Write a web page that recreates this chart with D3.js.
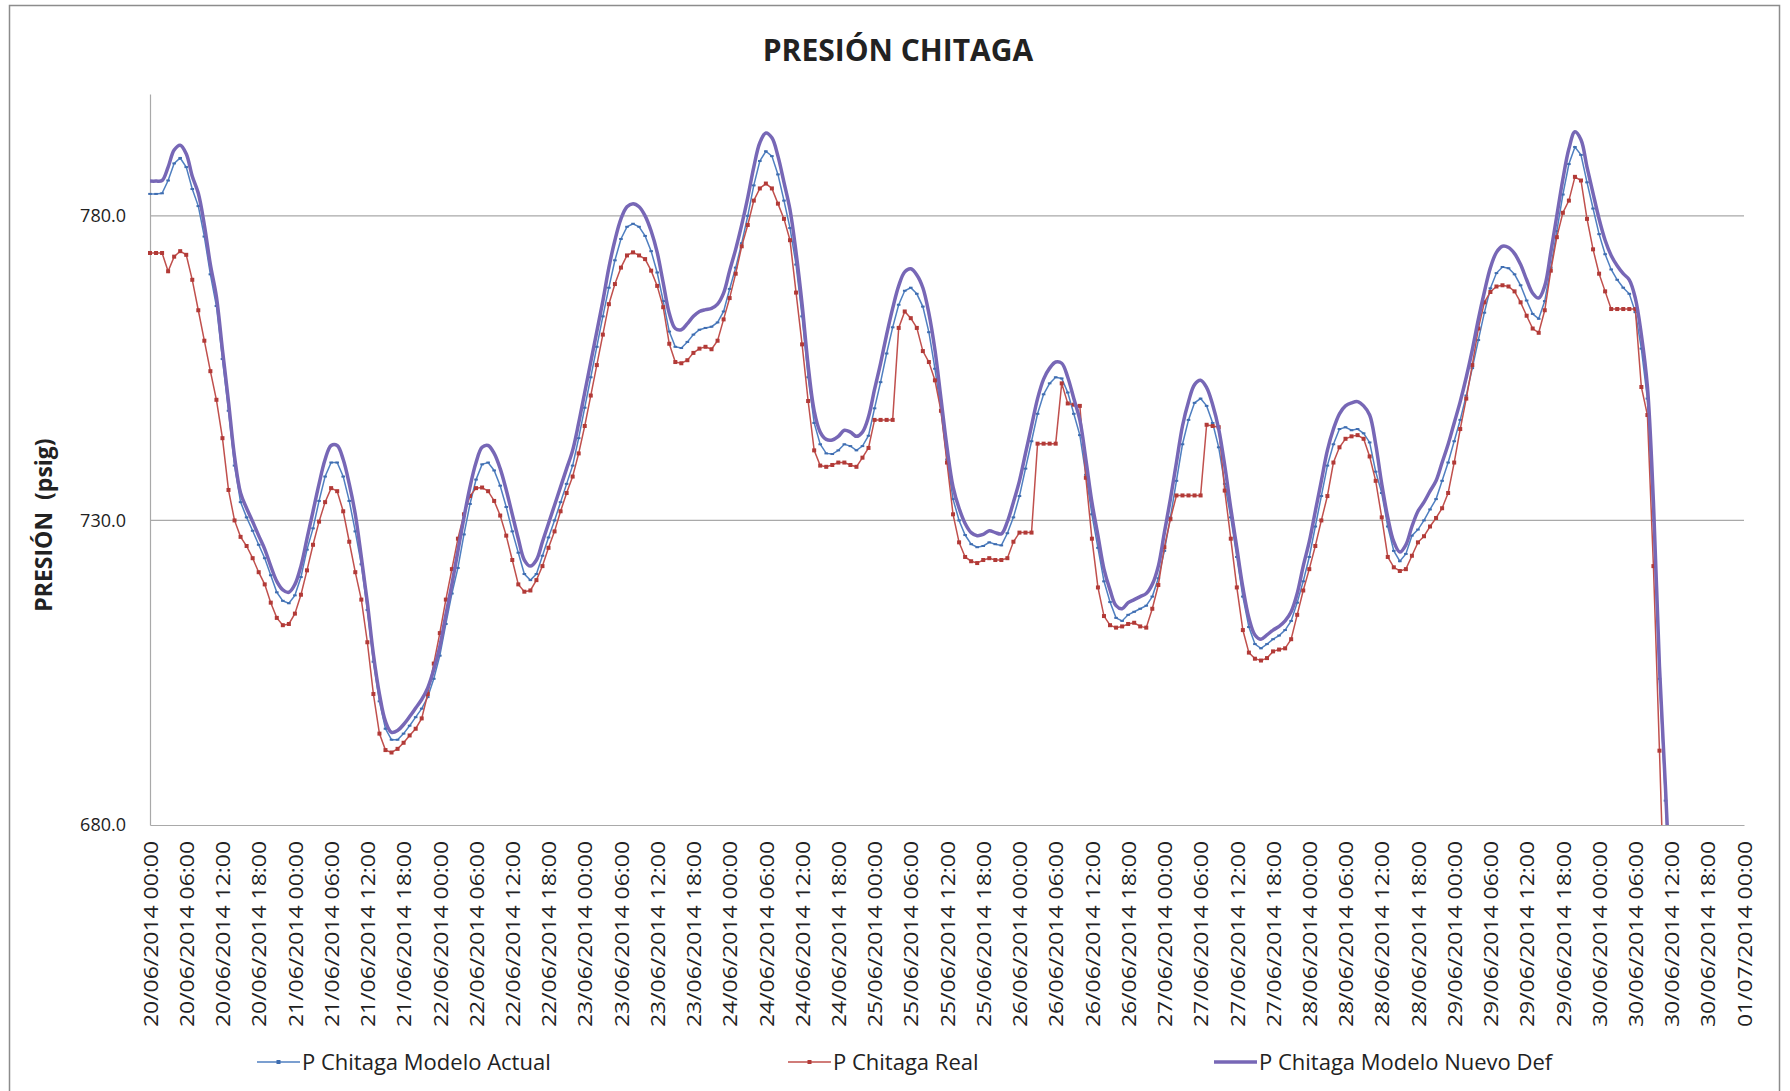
<!DOCTYPE html>
<html>
<head>
<meta charset="utf-8">
<script src="https://cdn.jsdelivr.net/npm/d3@7"></script>
<style>
body { margin: 0; background: #fff; }
text { font-family: "Open Sans", sans-serif; fill: #222; }
</style>
</head>
<body>
<div id="graph"></div>
<script>
// Hourly readings starting 20/06/2014 00:00
var startTime = Date.UTC(2014, 5, 20, 0, 0);
var endTime = Date.UTC(2014, 6, 1, 0, 0);
var hourMs = 3600000;
var yTicks = [680, 730, 780];
var seriesNames = ["P Chitaga Modelo Actual", "P Chitaga Real", "P Chitaga Modelo Nuevo Def"];

var modeloActual = [
  783.6, 783.6, 783.7, 785.8, 788.6, 789.5, 788.0, 784.4, 781.6, 776.6, 770.4, 765.2,
  756.5, 748.0, 739.0, 733.0, 730.5, 728.3, 726.0, 723.8, 721.0, 718.2, 716.8, 716.4,
  717.7, 720.7, 725.2, 728.7, 733.2, 737.2, 739.5, 739.5, 737.2, 733.2, 728.2, 722.8,
  715.3, 706.8, 700.3, 695.8, 694.0, 694.0, 695.0, 696.3, 697.7, 699.1, 701.0, 704.0,
  707.8, 713.0, 718.0, 722.2, 727.7, 732.7, 736.7, 739.2, 739.5, 738.2, 735.7, 732.2,
  728.2, 724.7, 721.2, 720.2, 721.2, 724.2, 727.2, 730.0, 733.0, 736.0, 739.0, 743.5,
  748.5, 753.5, 758.5, 763.5, 768.2, 772.7, 776.2, 778.2, 778.7, 778.2, 776.7, 774.2,
  770.7, 766.0, 761.0, 758.5, 758.3, 759.3, 760.5, 761.3, 761.6, 761.8, 762.5, 764.3,
  768.0, 771.5, 775.5, 780.0, 785.0, 789.0, 790.6, 789.8, 786.8, 782.5, 778.0, 772.0,
  763.5, 753.5, 746.0, 742.5, 741.0, 740.9, 741.5, 742.5, 742.2, 741.5, 742.2, 743.9,
  748.4, 752.7, 757.4, 761.7, 765.4, 767.7, 768.2, 767.2, 765.1, 760.9, 754.9, 748.0,
  740.0, 733.5, 730.0, 727.6, 726.1, 725.6, 725.8, 726.4, 726.1, 725.9, 727.9, 730.5,
  734.0, 738.5, 743.0, 747.5, 750.7, 752.5, 753.5, 753.3, 751.0, 747.5, 744.0, 737.5,
  731.0, 725.5, 720.0, 716.6, 714.0, 713.5, 714.5, 715.0, 715.5, 716.0, 717.5, 720.5,
  725.0, 730.5, 736.5, 742.5, 746.5, 749.3, 750.0, 748.8, 746.0, 742.0, 736.0, 730.5,
  724.0, 717.5, 712.5, 709.7, 709.0, 709.7, 710.5, 711.1, 712.0, 713.5, 716.5, 720.0,
  724.0, 729.0, 734.0, 739.0, 742.5, 745.0, 745.3, 744.8, 745.0, 744.3, 742.8, 738.0,
  734.5, 729.0, 725.0, 723.3, 724.5, 727.5, 728.5, 730.0, 731.8, 733.5, 736.5, 739.5,
  743.0, 746.5, 750.5, 755.0, 759.6, 764.1, 768.1, 770.6, 771.6, 771.4, 770.4, 768.6,
  766.1, 763.9, 763.1, 766.0, 771.5, 777.5, 783.5, 788.5, 791.3, 790.0, 785.5, 781.2,
  777.0, 773.7, 771.2, 769.5, 768.2, 767.2, 764.2, 758.2, 750.0, 730.0, 704.0, 684.0,
  662.0
];

var real = [
  773.9, 773.9, 773.9, 770.9, 773.3, 774.2, 773.6, 769.5, 764.5, 759.5, 754.5, 749.8,
  743.5, 735.0, 730.0, 727.3, 725.8, 723.8, 721.5, 719.5, 716.5, 714.0, 712.8, 713.0,
  714.7, 717.8, 721.8, 726.0, 729.8, 733.0, 735.3, 734.8, 731.5, 726.5, 721.5, 717.0,
  710.0, 701.5, 695.0, 692.3, 691.9, 692.5, 693.5, 694.7, 695.8, 697.5, 701.5, 706.5,
  711.5, 717.0, 722.0, 727.0, 731.0, 734.0, 735.3, 735.4, 734.8, 733.2, 730.8, 727.5,
  723.5, 719.5, 718.3, 718.5, 720.2, 722.5, 725.5, 728.2, 731.5, 734.5, 737.2, 741.0,
  745.5, 750.5, 755.5, 760.5, 765.5, 768.8, 771.5, 773.5, 774.0, 773.5, 772.9, 771.0,
  768.5, 765.0, 759.0, 756.0, 755.8, 756.3, 757.5, 758.2, 758.5, 758.1, 759.5, 763.0,
  766.5, 770.5, 775.0, 778.5, 782.5, 784.5, 785.3, 784.5, 782.0, 779.5, 776.0, 767.4,
  758.9, 749.6, 741.5, 739.0, 738.8, 739.1, 739.5, 739.5, 739.1, 738.8, 740.3, 741.9,
  746.5, 746.5, 746.5, 746.5, 761.6, 764.3, 763.2, 761.6, 757.8, 756.0, 753.0, 748.0,
  739.5, 731.0, 726.4, 724.0, 723.3, 723.0, 723.5, 723.8, 723.5, 723.5, 723.8, 726.5,
  728.0, 728.0, 728.0, 742.6, 742.6, 742.6, 742.6, 752.5, 749.2, 749.0, 748.8, 737.0,
  727.0, 719.0, 714.3, 712.8, 712.4, 712.6, 713.0, 713.2, 712.6, 712.4, 715.5, 719.4,
  725.6, 730.2, 734.1, 734.1, 734.1, 734.1, 734.1, 745.7, 745.5, 745.3, 734.9, 727.0,
  719.0, 712.0, 708.3, 707.3, 707.0, 707.4, 708.5, 708.8, 709.0, 710.5, 714.5, 718.5,
  722.0, 725.8, 730.0, 734.0, 739.5, 742.0, 743.4, 743.8, 744.0, 743.4, 740.5, 736.5,
  730.5, 724.0, 722.3, 721.7, 722.0, 724.2, 726.4, 727.4, 729.0, 730.4, 732.0, 734.5,
  739.5, 745.0, 750.0, 755.5, 761.5, 765.8, 767.5, 768.4, 768.6, 768.4, 767.6, 765.8,
  763.6, 761.5, 760.8, 764.5, 771.0, 776.5, 780.5, 782.5, 786.4, 785.8, 779.5, 774.5,
  770.5, 767.6, 764.7, 764.7, 764.7, 764.7, 764.7, 751.9, 747.3, 722.5, 692.2, 660.0
];

var modeloNuevo = [
  785.7, 785.7, 785.8, 788.0, 790.8, 791.6, 790.2, 786.5, 783.7, 778.5, 772.0, 766.7,
  758.0, 749.5, 740.5, 734.5, 732.0, 729.8, 727.5, 725.3, 722.5, 720.0, 718.6, 718.2,
  719.5, 722.5, 727.0, 731.5, 736.0, 740.0, 742.3, 742.3, 740.0, 736.0, 731.0, 724.0,
  716.5, 708.0, 701.5, 697.0, 695.2, 695.5, 696.5, 697.8, 699.2, 700.6, 702.5, 705.5,
  709.3, 714.5, 719.5, 725.0, 730.5, 735.5, 739.5, 742.0, 742.3, 741.0, 738.5, 735.0,
  731.0, 727.0, 723.5, 722.5, 723.5, 726.5, 729.5, 732.5, 735.5, 738.5, 741.5, 746.0,
  751.0, 756.0, 761.0, 766.0, 771.5, 776.0, 779.5, 781.5, 782.0, 781.5, 780.0, 777.5,
  774.0, 769.0, 764.0, 761.5, 761.3, 762.3, 763.5, 764.3, 764.6, 764.8, 765.5, 767.3,
  771.0, 774.5, 778.5, 783.0, 788.0, 792.0, 793.6, 792.8, 789.8, 785.5, 781.0, 774.0,
  765.5, 755.5, 748.0, 744.5, 743.3, 743.2, 743.8, 744.8, 744.5, 743.8, 744.5, 747.0,
  751.5, 755.8, 760.5, 764.8, 768.5, 770.8, 771.3, 770.3, 768.2, 764.0, 758.0, 750.0,
  742.0, 735.5, 732.0, 729.5, 728.0, 727.5, 727.7, 728.3, 728.0, 727.8, 729.8, 733.0,
  736.5, 741.0, 745.5, 750.0, 753.2, 755.0, 756.0, 755.8, 753.5, 750.0, 746.5, 740.0,
  733.0, 727.5, 722.0, 718.6, 716.0, 715.5, 716.5, 717.0, 717.5, 718.0, 719.5, 722.5,
  728.0, 733.5, 739.5, 745.5, 749.5, 752.3, 753.0, 751.8, 749.0, 745.0, 739.0, 732.0,
  725.5, 719.0, 714.0, 711.2, 710.5, 711.2, 712.0, 712.6, 713.5, 715.0, 718.0, 722.5,
  726.5, 731.5, 736.5, 741.5, 745.0, 747.5, 748.8, 749.3, 749.5, 748.8, 747.3, 742.5,
  736.0, 730.5, 726.5, 724.8, 726.0, 729.0, 731.5, 733.0, 734.8, 736.5, 739.5, 742.5,
  746.0, 749.5, 753.5, 758.0, 763.0, 767.5, 771.5, 774.0, 775.0, 774.8, 773.8, 772.0,
  769.5, 767.3, 766.5, 768.5, 774.0, 780.0, 786.0, 791.0, 793.8, 792.5, 788.0, 783.7,
  779.5, 776.0, 773.5, 771.8, 770.5, 769.5, 766.5, 760.5, 752.0, 733.0, 706.0, 686.0,
  664.0
];

var colActual = "#4f7fc0", colReal = "#c0504d", colNuevo = "#7767b6";

var W = 1790, H = 1091;
var margin = {top: 94, right: 46, bottom: 266, left: 150},
    width = W - margin.left - margin.right,
    height = H - margin.top - margin.bottom;

var x = d3.scaleUtc()
    .domain([new Date(startTime), new Date(endTime)])
    .range([0, width]);
var y = d3.scaleLinear().domain([680, 800]).range([height, 0]);

function toPoints(arr) {
    return arr.map(function(v, i) { return {t: new Date(startTime + i * hourMs), v: v}; });
}

var svg = d3.select("#graph").append("svg")
    .attr("width", W)
    .attr("height", H);

// chart frame
svg.append("rect")
    .attr("x", 9.5).attr("y", 5.5)
    .attr("width", 1770).attr("height", 1100)
    .style("fill", "#fff")
    .style("stroke", "#8c8c8c")
    .style("stroke-width", 1.5);

svg.append("text")
    .attr("x", 898).attr("y", 61)
    .attr("text-anchor", "middle")
    .style("font-size", "30px")
    .style("font-weight", "bold")
    .text("PRESIÓN CHITAGA");

var g = svg.append("g")
    .attr("transform", "translate(" + margin.left + "," + margin.top + ")");

g.append("clipPath").attr("id", "plotclip")
  .append("rect").attr("x", -2).attr("y", 0).attr("width", width + 4).attr("height", height);

// gridlines
g.selectAll(".grid").data(yTicks.slice(1)).enter().append("line")
    .attr("x1", 0).attr("x2", width)
    .attr("y1", function(d) { return y(d); }).attr("y2", function(d) { return y(d); })
    .style("stroke", "#a9a9a9").style("stroke-width", 1.2);

// Y axis
var yAxis = g.append("g")
    .call(d3.axisLeft(y).tickValues(yTicks).tickFormat(d3.format(".1f")).tickSize(0).tickPadding(24));
yAxis.select(".domain").style("stroke", "#a9a9a9").style("stroke-width", 1.2);
yAxis.selectAll("text").style("font-size", "18px").style("font-family", "Open Sans").style("fill", "#222");

// X axis
var xAxis = g.append("g")
    .attr("transform", "translate(0," + height + ")")
    .call(d3.axisBottom(x).ticks(d3.utcHour.every(6)).tickFormat(d3.utcFormat("%d/%m/%Y %H:%M")).tickSize(0));
xAxis.select(".domain").style("stroke", "#a9a9a9").style("stroke-width", 1.2);
xAxis.selectAll("text")
    .attr("transform", "rotate(-90)")
    .attr("text-anchor", "end")
    .attr("x", -16).attr("y", 0).attr("dy", "0.36em")
    .attr("textLength", 186)
    .attr("lengthAdjust", "spacingAndGlyphs")
    .style("font-size", "20px").style("font-family", "Open Sans").style("fill", "#222");

// Y axis title
svg.append("text")
    .attr("transform", "translate(52,525) rotate(-90)")
    .attr("text-anchor", "middle")
    .style("font-size", "23px")
    .style("font-weight", "bold")
    .style("white-space", "pre")
    .text("PRESIÓN  (psig)");

var plot = g.append("g").attr("clip-path", "url(#plotclip)");

var line = d3.line()
    .x(function(d) { return x(d.t); })
    .y(function(d) { return y(d.v); });

var smooth = d3.line()
    .x(function(d) { return x(d.t); })
    .y(function(d) { return y(d.v); })
    .curve(d3.curveCatmullRom.alpha(0.5));

// Modelo Actual
var ptsA = toPoints(modeloActual);
plot.append("path").datum(ptsA).attr("d", line)
    .style("fill", "none").style("stroke", colActual).style("stroke-width", 1.5);
plot.selectAll(".mA").data(ptsA).enter().append("rect")
    .attr("x", function(d) { return x(d.t) - 1.8; })
    .attr("y", function(d) { return y(d.v) - 1; })
    .attr("width", 3.6).attr("height", 2)
    .style("fill", "#3f6db0");

// Real
var ptsR = toPoints(real);
plot.append("path").datum(ptsR).attr("d", line)
    .style("fill", "none").style("stroke", colReal).style("stroke-width", 1.5);
plot.selectAll(".mR").data(ptsR).enter().append("rect")
    .attr("x", function(d) { return x(d.t) - 2; })
    .attr("y", function(d) { return y(d.v) - 2; })
    .attr("width", 4).attr("height", 4)
    .style("fill", "#b23a37");

// Modelo Nuevo Def
var ptsN = toPoints(modeloNuevo);
plot.append("path").datum(ptsN).attr("d", smooth)
    .style("fill", "none").style("stroke", colNuevo).style("stroke-width", 3.5);

// legend
var legendX = [257, 788, 1214];
var legend = svg.selectAll(".legend").data(seriesNames).enter().append("g")
    .attr("transform", function(d, i) { return "translate(" + legendX[i] + ",1062)"; });
legend.append("line")
    .attr("x1", 0).attr("x2", 43).attr("y1", 0).attr("y2", 0)
    .style("stroke", function(d, i) { return [colActual, colReal, colNuevo][i]; })
    .style("stroke-width", function(d, i) { return i === 2 ? 3.5 : 1.5; });
legend.filter(function(d, i) { return i < 2; }).append("rect")
    .attr("x", 19.5).attr("y", -2).attr("width", 4).attr("height", 4)
    .style("fill", function(d, i) { return ["#3f6db0", "#b23a37"][i]; });
legend.append("text")
    .attr("x", 45).attr("y", 0).attr("dy", "0.35em")
    .style("font-size", "22px")
    .text(function(d) { return d; });
</script>
</body>
</html>
